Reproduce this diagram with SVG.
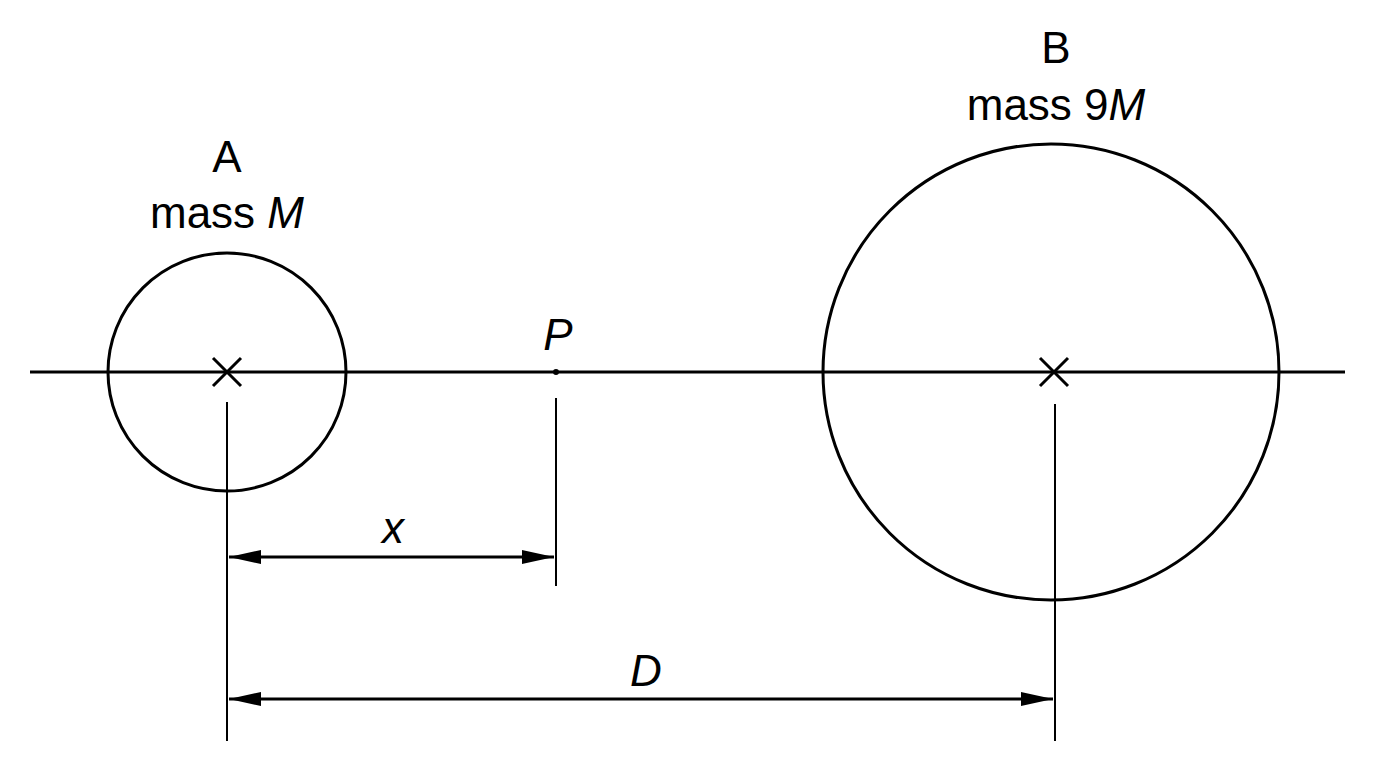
<svg xmlns="http://www.w3.org/2000/svg" width="1376" height="768" viewBox="0 0 1376 768">
<style>
.l{stroke:#000;stroke-width:3;fill:none}
.t{font-family:"Liberation Sans",Arial,sans-serif;font-size:44px;text-anchor:middle;fill:#000}
.i{font-style:italic}
</style>
<defs><marker id="a" markerWidth="12" markerHeight="10" refX="12" refY="5" orient="auto-start-reverse" markerUnits="userSpaceOnUse"><path d="M0,0 L34,5 L0,10 Z" transform="scale(0.36,1)"/></marker>
<marker id="b" viewBox="0 0 32 14" markerWidth="32" markerHeight="14" refX="32" refY="7" orient="auto-start-reverse" markerUnits="userSpaceOnUse"><path d="M0,0 L32,7 L0,14 Z"/></marker></defs>
<rect width="1376" height="768" fill="#fff"/>
<g id="axis"><line class="l" x1="30" y1="372" x2="1345" y2="372"/></g>
<g id="A"><circle class="l" cx="227" cy="372" r="119"/><path class="l" d="M213,358 L241,386 M241,358 L213,386"/>
<text class="t" x="227" y="172">A</text><text class="t" x="227" y="228">mass <tspan class="i">M</tspan></text></g>
<g id="B"><circle class="l" cx="1051" cy="372" r="228"/><path class="l" d="M1040,358 L1068,386 M1068,358 L1040,386"/>
<text class="t" x="1056" y="63">B</text><text class="t" x="1056" y="120">mass 9<tspan class="i">M</tspan></text></g>
<g id="P"><circle cx="556" cy="372" r="3"/><text class="t i" x="558" y="350">P</text></g>
<g id="connectors">
<line class="l" stroke-width="2" x1="227" y1="402" x2="227" y2="741" style="stroke-width:2"/>
<line class="l" x1="556" y1="398" x2="556" y2="586" style="stroke-width:2"/>
<line class="l" x1="1055" y1="404" x2="1055" y2="741" style="stroke-width:2"/>
<line class="l" x1="229" y1="557" x2="554" y2="557" marker-start="url(#b)" marker-end="url(#b)"/>
<line class="l" x1="229" y1="699" x2="1053" y2="699" marker-start="url(#b)" marker-end="url(#b)"/>
<text class="t i" x="393" y="543">x</text>
<text class="t i" x="646" y="686">D</text>
</g>
</svg>
